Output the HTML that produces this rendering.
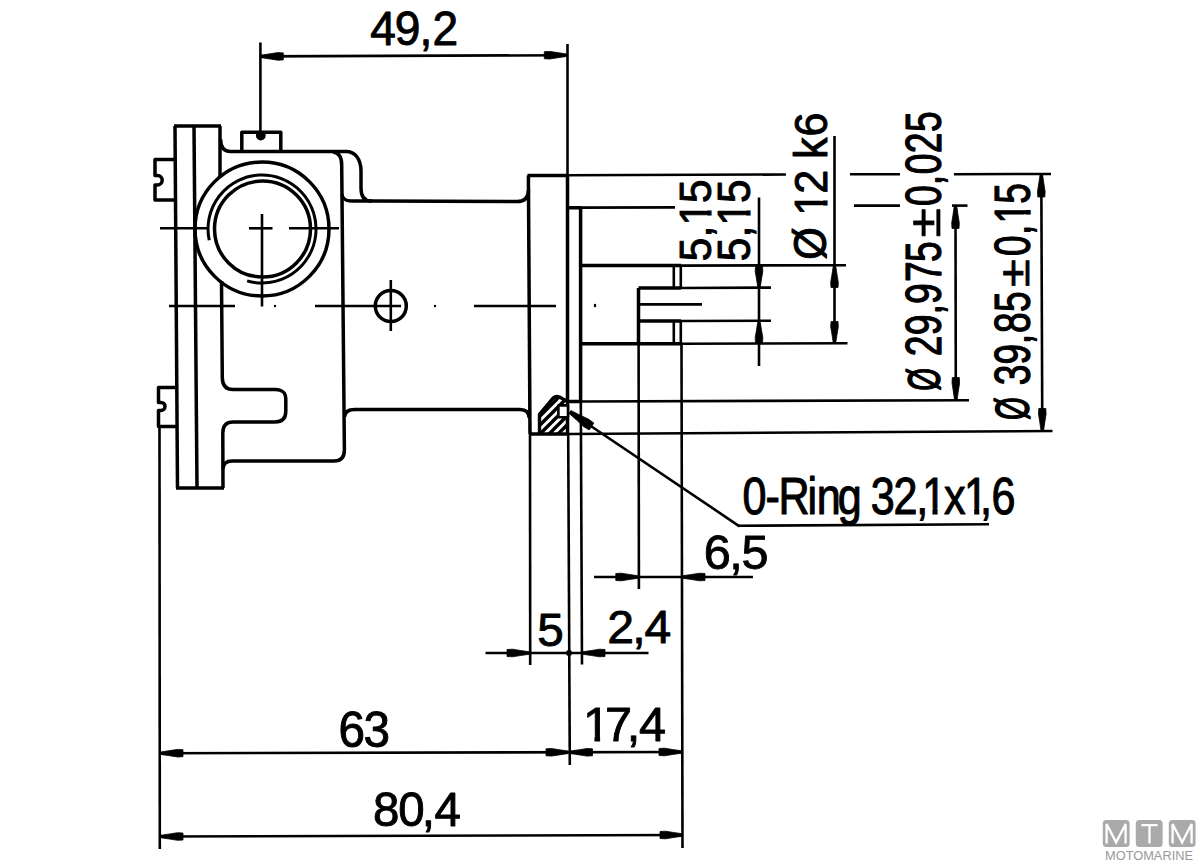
<!DOCTYPE html>
<html><head><meta charset="utf-8"><style>
html,body{margin:0;padding:0;background:#fff;}
svg{display:block;}
text{font-family:"Liberation Sans",sans-serif;fill:#000;stroke:none;}
</style></head><body>
<svg width="1200" height="864" viewBox="0 0 1200 864">
<rect width="1200" height="864" fill="#fff"/>
<g fill="none" stroke="#000" stroke-linecap="butt" stroke-linejoin="round">
<path d="M174,126 H221" stroke-width="3.5" />
<path d="M175,126 L177.5,488" stroke-width="3.5" />
<path d="M194,126 L197,488" stroke-width="3.5" />
<path d="M176,488 H224" stroke-width="3.5" />
<path d="M220,126 V177" stroke-width="3.5" />
<path d="M175,159.5 H155 V175.5 H157.5 A4.7,4.7 0 0 1 157.5,184.9 H155 V200 H175" stroke-width="3.5" />
<path d="M177,387.5 H158.5 V402.4 H161 A4,4 0 0 1 161,410.4 H158.5 V426.4 H177" stroke-width="3.5" />
<path d="M241.8,151 V132.3 H280.8 V151" stroke-width="3.5" />
<circle cx="260.8" cy="135.6" r="4.9" fill="#000" stroke="none"/>
<path d="M220.5,139 Q221,151.5 230,151.5 H346 C355,151.5 361,159 361,171 V188 C361,196 364,201 371,201 L517,201.6 Q528.5,201.6 528.5,190" stroke-width="3.5" />
<path d="M333,152 C338.5,152.5 341.7,157 341.7,165 L344.4,450 Q344.4,461 334,461 H232 Q223.5,461 222.8,469" stroke-width="3.5" />
<path d="M341.9,194 Q342.3,200.9 351,200.9 H372" stroke-width="3.5" />
<path d="M221.5,281 L222.3,378 Q222.6,389.5 233,389.5 H275.5 C282,389.8 285.8,392 285.8,399.5 V411.5 C285.8,419 282,421.9 275,421.9 H233 Q222.8,421.9 222.8,433 L223,488" stroke-width="3.5" />
<path d="M344.6,417 Q345,409.4 355,409.4 H520 Q529,409.4 529.2,418" stroke-width="3.5" />
<circle cx="262" cy="229" r="67" fill="none" stroke-width="3.5"/>
<circle cx="262.5" cy="229" r="48" fill="none" stroke-width="3.5"/>
<path d="M209.2,240.2 A54,54 0 1 1 247.1,280.9" stroke-width="3.0" />
<line x1="160" y1="228.3" x2="209" y2="228.3" stroke-width="2.6"/>
<line x1="249" y1="228.3" x2="272.5" y2="228.3" stroke-width="2.6"/>
<line x1="289" y1="228.3" x2="339" y2="228.3" stroke-width="2.6"/>
<line x1="262" y1="214" x2="262" y2="306.5" stroke-width="2.6"/>
<line x1="169" y1="306" x2="235" y2="306" stroke-width="2.6"/>
<line x1="315" y1="306" x2="401" y2="306" stroke-width="2.6"/>
<line x1="474" y1="306" x2="556" y2="306" stroke-width="2.6"/>
<circle cx="275" cy="306" r="1.2" fill="#000" stroke="none"/>
<circle cx="435" cy="306" r="1.2" fill="#000" stroke="none"/>
<circle cx="595" cy="306" r="1.2" fill="#000" stroke="none"/>
<circle cx="390.8" cy="306" r="15.5" fill="none" stroke-width="3.5"/>
<line x1="390.8" y1="280" x2="390.8" y2="331" stroke-width="2.6"/>
<path d="M528.4,175.6 L530,434" stroke-width="3.5" />
<path d="M527.5,175.6 H567.5" stroke-width="3.5" />
<path d="M567.5,175.6 V434" stroke-width="3.5" />
<path d="M529,434 H569" stroke-width="3.5" />
<path d="M567.5,207.7 H580.6 V401.5 H567.5" stroke-width="3.5" />
<path d="M580.6,265.6 H681" stroke-width="3.5" />
<path d="M580.6,343.7 H681" stroke-width="3.5" />
<path d="M673.8,265.6 V288 M680.8,265.6 V288 M673.8,321 V343.7 M680.8,321 V343.7" stroke-width="2.6" />
<path d="M638.5,288 H681 M638.5,321 H681 M638.5,288 V344" stroke-width="3.5" />
<line x1="637" y1="304.4" x2="702" y2="304.4" stroke-width="2.6"/>
<circle cx="595" cy="305" r="1.2" fill="#000" stroke="none"/>
<clipPath id="oc"><path d="M539.5,434.5 V414.3 L553.1,398.1 Q557.2,394.6 562.4,398.7 L568,401.6 V434.5 Z"/></clipPath>
<path d="M511,445 L576,380 M520,445 L585,380 M529,445 L594,380 M538,445 L603,380 M547,445 L612,380" stroke-width="3.4" clip-path="url(#oc)"/>
<path d="M539.5,434 V414.3 L553.1,398.1 Q557.2,394.6 562.4,398.7 L568,401.6" stroke-width="3.4" />
<rect x="558.4" y="405.4" width="9.6" height="11.8" fill="#fff" stroke="#000" stroke-width="2.6"/>
<line x1="260.4" y1="42.5" x2="260.4" y2="131.5" stroke-width="2.6"/>
<line x1="567.5" y1="44" x2="567.5" y2="176" stroke-width="2.6"/>
<line x1="568.2" y1="434" x2="569.8" y2="765" stroke-width="2.6"/>
<line x1="159.5" y1="426" x2="159.8" y2="849" stroke-width="2.6"/>
<line x1="530" y1="434" x2="530.2" y2="665" stroke-width="2.6"/>
<line x1="580.8" y1="401.5" x2="582" y2="664.5" stroke-width="2.6"/>
<line x1="638.6" y1="344" x2="638.9" y2="589" stroke-width="2.6"/>
<line x1="681.5" y1="343.7" x2="682.5" y2="848" stroke-width="2.6"/>
<line x1="567.5" y1="175.2" x2="786" y2="174.5" stroke-width="2.6"/>
<line x1="850" y1="174.3" x2="900" y2="174.3" stroke-width="2.6"/>
<line x1="954" y1="174.2" x2="1051" y2="174" stroke-width="2.6"/>
<line x1="580.6" y1="207.6" x2="675" y2="207.4" stroke-width="2.6"/>
<line x1="854" y1="205.6" x2="900" y2="205.6" stroke-width="2.6"/>
<line x1="952" y1="205.6" x2="967.5" y2="205.6" stroke-width="2.6"/>
<line x1="681" y1="265.6" x2="846" y2="265.2" stroke-width="2.6"/>
<line x1="681" y1="343.7" x2="847.5" y2="343.2" stroke-width="2.6"/>
<line x1="681" y1="288" x2="771" y2="287.6" stroke-width="2.6"/>
<line x1="681" y1="321" x2="771" y2="320.8" stroke-width="2.6"/>
<line x1="580.6" y1="401.5" x2="969" y2="400.2" stroke-width="2.6"/>
<line x1="569" y1="434" x2="1052.5" y2="431" stroke-width="2.6"/>
<line x1="260.4" y1="56.4" x2="567.5" y2="55.2" stroke-width="2.6"/>
<polygon points="261.30,55.10 270.10,53.82 277.80,52.60 283.30,52.90 283.30,59.90 277.80,60.20 270.10,58.98 261.30,57.70" fill="#000" stroke="#000" stroke-width="0.8" stroke-linejoin="round"/>
<polygon points="566.30,56.50 557.50,57.78 549.80,59.00 544.30,58.70 544.30,51.70 549.80,51.40 557.50,52.62 566.30,53.90" fill="#000" stroke="#000" stroke-width="0.8" stroke-linejoin="round"/>
<line x1="759" y1="197.5" x2="759" y2="366" stroke-width="2.6"/>
<polygon points="757.70,286.50 756.42,278.50 755.20,271.50 755.50,266.50 762.50,266.50 762.80,271.50 761.58,278.50 760.30,286.50" fill="#000" stroke="#000" stroke-width="0.8" stroke-linejoin="round"/>
<polygon points="760.30,322.50 761.58,330.50 762.80,337.50 762.50,342.50 755.50,342.50 755.20,337.50 756.42,330.50 757.70,322.50" fill="#000" stroke="#000" stroke-width="0.8" stroke-linejoin="round"/>
<line x1="834.5" y1="136" x2="834.5" y2="343" stroke-width="2.6"/>
<polygon points="835.80,266.50 837.08,274.90 838.30,282.25 838.00,287.50 831.00,287.50 830.70,282.25 831.92,274.90 833.20,266.50" fill="#000" stroke="#000" stroke-width="0.8" stroke-linejoin="round"/>
<polygon points="833.20,342.50 831.92,334.10 830.70,326.75 831.00,321.50 838.00,321.50 838.30,326.75 837.08,334.10 835.80,342.50" fill="#000" stroke="#000" stroke-width="0.8" stroke-linejoin="round"/>
<line x1="955.5" y1="205.6" x2="955.8" y2="400" stroke-width="2.6"/>
<polygon points="956.80,206.50 958.08,215.30 959.30,223.00 959.00,228.50 952.00,228.50 951.70,223.00 952.92,215.30 954.20,206.50" fill="#000" stroke="#000" stroke-width="0.8" stroke-linejoin="round"/>
<polygon points="954.50,399.50 953.22,390.70 952.00,383.00 952.30,377.50 959.30,377.50 959.60,383.00 958.38,390.70 957.10,399.50" fill="#000" stroke="#000" stroke-width="0.8" stroke-linejoin="round"/>
<line x1="1041.3" y1="174" x2="1042.3" y2="431" stroke-width="2.6"/>
<polygon points="1042.60,175.00 1043.88,183.80 1045.10,191.50 1044.80,197.00 1037.80,197.00 1037.50,191.50 1038.72,183.80 1040.00,175.00" fill="#000" stroke="#000" stroke-width="0.8" stroke-linejoin="round"/>
<polygon points="1041.00,430.50 1039.72,421.70 1038.50,414.00 1038.80,408.50 1045.80,408.50 1046.10,414.00 1044.88,421.70 1043.60,430.50" fill="#000" stroke="#000" stroke-width="0.8" stroke-linejoin="round"/>
<line x1="594" y1="577" x2="753" y2="577" stroke-width="2.6"/>
<polygon points="637.80,578.30 629.00,579.58 621.30,580.80 615.80,580.50 615.80,573.50 621.30,573.20 629.00,574.42 637.80,575.70" fill="#000" stroke="#000" stroke-width="0.8" stroke-linejoin="round"/>
<polygon points="683.00,575.70 691.80,574.42 699.50,573.20 705.00,573.50 705.00,580.50 699.50,580.80 691.80,579.58 683.00,578.30" fill="#000" stroke="#000" stroke-width="0.8" stroke-linejoin="round"/>
<line x1="485.5" y1="653" x2="648.5" y2="653" stroke-width="2.6"/>
<polygon points="529.00,654.30 520.20,655.58 512.50,656.80 507.00,656.50 507.00,649.50 512.50,649.20 520.20,650.42 529.00,651.70" fill="#000" stroke="#000" stroke-width="0.8" stroke-linejoin="round"/>
<polygon points="583.00,651.70 591.80,650.42 599.50,649.20 605.00,649.50 605.00,656.50 599.50,656.80 591.80,655.58 583.00,654.30" fill="#000" stroke="#000" stroke-width="0.8" stroke-linejoin="round"/>
<circle cx="569" cy="653" r="3" fill="#000" stroke="none"/>
<line x1="159.8" y1="753.2" x2="682" y2="752" stroke-width="2.6"/>
<polygon points="161.00,751.90 169.80,750.62 177.50,749.40 183.00,749.70 183.00,756.70 177.50,757.00 169.80,755.78 161.00,754.50" fill="#000" stroke="#000" stroke-width="0.8" stroke-linejoin="round"/>
<polygon points="568.00,753.60 559.20,754.88 551.50,756.10 546.00,755.80 546.00,748.80 551.50,748.50 559.20,749.72 568.00,751.00" fill="#000" stroke="#000" stroke-width="0.8" stroke-linejoin="round"/>
<polygon points="570.50,751.00 579.30,749.72 587.00,748.50 592.50,748.80 592.50,755.80 587.00,756.10 579.30,754.88 570.50,753.60" fill="#000" stroke="#000" stroke-width="0.8" stroke-linejoin="round"/>
<polygon points="681.00,753.30 672.20,754.58 664.50,755.80 659.00,755.50 659.00,748.50 664.50,748.20 672.20,749.42 681.00,750.70" fill="#000" stroke="#000" stroke-width="0.8" stroke-linejoin="round"/>
<line x1="159.8" y1="836.5" x2="683" y2="835" stroke-width="2.6"/>
<polygon points="161.00,835.20 169.80,833.92 177.50,832.70 183.00,833.00 183.00,840.00 177.50,840.30 169.80,839.08 161.00,837.80" fill="#000" stroke="#000" stroke-width="0.8" stroke-linejoin="round"/>
<polygon points="682.00,836.30 673.20,837.58 665.50,838.80 660.00,838.50 660.00,831.50 665.50,831.20 673.20,832.42 682.00,833.70" fill="#000" stroke="#000" stroke-width="0.8" stroke-linejoin="round"/>
<line x1="570" y1="412" x2="739.5" y2="526.3" stroke-width="2.6"/>
<polygon points="570.95,410.59 580.33,415.28 588.68,419.17 593.87,423.10 589.24,429.97 583.65,426.63 576.91,420.35 569.05,413.41" fill="#000" stroke="#000" stroke-width="0.8" stroke-linejoin="round"/>
<line x1="738.5" y1="525.8" x2="989" y2="524.3" stroke-width="2.6"/>
<text x="379.88 405.13 430.27 443.69" y="0" font-size="47.29" transform="translate(0,45.00) scale(0.9747,1)" style="fill:#000;stroke:#000;stroke-width:0.92px">49,2</text>
<text x="352.95 379.02" y="0" font-size="49.71" transform="translate(0,747.00) scale(0.9589,1)" style="fill:#000;stroke:#000;stroke-width:0.94px">63</text>
<text x="381.55 407.27 431.42 444.29" y="0" font-size="48.57" transform="translate(0,825.60) scale(0.9778,1)" style="fill:#000;stroke:#000;stroke-width:0.92px">80,4</text>
<text x="531.28" y="0" font-size="47.14" transform="translate(0,646.00) scale(1.0111,1)" style="fill:#000;stroke:#000;stroke-width:0.89px">5</text>
<text x="594.96 619.40 631.31" y="0" font-size="47.14" transform="translate(0,643.40) scale(1.0208,1)" style="fill:#000;stroke:#000;stroke-width:0.88px">2,4</text>
<text x="600.76 622.45 634.56" y="0" font-size="48.29" transform="translate(0,740.60) scale(1.0070,1)" style="fill:#000;stroke:#000;stroke-width:0.89px">7,4</text>
<clipPath id="f1c1"><path d="M-3000,-3000 H3000 V3000 H-3000 Z M579.88,-5.55 H590.39 V2.41 H579.88 Z M595.92,-5.55 H604.74 V2.41 H595.92 Z" clip-rule="evenodd"/></clipPath>
<text x="578.91" y="0" font-size="48.29" clip-path="url(#f1c1)" transform="translate(0,740.60) scale(1.0070,1)" style="fill:#000;stroke:#000;stroke-width:0.89px">1</text>
<text x="696.54 721.66 733.91" y="0" font-size="48.14" transform="translate(0,568.60) scale(1.0104,1)" style="fill:#000;stroke:#000;stroke-width:0.89px">6,5</text>
<text x="903.11 930.91 946.78 982.11 993.13 1018.93 1058.99 1086.51 1114.36 1147.86 1191.70 1205.87" y="0" font-size="52.43" transform="translate(0,514.30) scale(0.8223,1)" style="fill:#000;stroke:#000;stroke-width:1.09px">0-Ring32,x,6</text>
<clipPath id="f1c2"><path d="M-3000,-3000 H3000 V3000 H-3000 Z M1122.68,-6.03 H1134.03 V2.62 H1122.68 Z M1140.16,-6.03 H1149.68 V2.62 H1140.16 Z M1173.39,-6.03 H1184.75 V2.62 H1173.39 Z M1190.88,-6.03 H1200.39 V2.62 H1190.88 Z" clip-rule="evenodd"/></clipPath>
<text x="1121.63 1172.34" y="0" font-size="52.43" clip-path="url(#f1c2)" transform="translate(0,514.30) scale(0.8223,1)" style="fill:#000;stroke:#000;stroke-width:1.09px">11</text>
<text x="-270.16 -245.60 -209.78" y="0" font-size="43.86" transform="translate(711.10,0) rotate(-90) scale(0.9672,1)" style="fill:#000;stroke:#000;stroke-width:0.93px">5,5</text>
<clipPath id="f1c3"><path d="M-3000,-3000 H3000 V3000 H-3000 Z M-232.27,-5.04 H-222.78 V2.19 H-232.27 Z M-217.64,-5.04 H-209.69 V2.19 H-217.64 Z" clip-rule="evenodd"/></clipPath>
<text x="-233.15" y="0" font-size="43.86" clip-path="url(#f1c3)" transform="translate(711.10,0) rotate(-90) scale(0.9672,1)" style="fill:#000;stroke:#000;stroke-width:0.93px">1</text>
<text x="-280.72 -255.20 -217.98" y="0" font-size="45.57" transform="translate(749.90,0) rotate(-90) scale(0.9308,1)" style="fill:#000;stroke:#000;stroke-width:0.97px">5,5</text>
<clipPath id="f1c4"><path d="M-3000,-3000 H3000 V3000 H-3000 Z M-241.35,-5.24 H-231.49 V2.28 H-241.35 Z M-226.15,-5.24 H-217.88 V2.28 H-226.15 Z" clip-rule="evenodd"/></clipPath>
<text x="-242.26" y="0" font-size="45.57" clip-path="url(#f1c4)" transform="translate(749.90,0) rotate(-90) scale(0.9308,1)" style="fill:#000;stroke:#000;stroke-width:0.97px">1</text>
<text x="0" y="0" font-size="45.84" transform="translate(825.91,259.75) rotate(-90) scale(0.9101,1)" style="fill:#000;stroke:#000;stroke-width:0.99px">Ø</text>
<text x="-205.55 -168.60 -144.91" y="0" font-size="45.71" transform="translate(826.50,0) rotate(-90) scale(0.9425,1)" style="fill:#000;stroke:#000;stroke-width:0.95px">2k6</text>
<clipPath id="f1c5"><path d="M-3000,-3000 H3000 V3000 H-3000 Z M-227.99,-5.26 H-218.10 V2.29 H-227.99 Z M-212.75,-5.26 H-204.45 V2.29 H-212.75 Z" clip-rule="evenodd"/></clipPath>
<text x="-228.91" y="0" font-size="45.71" clip-path="url(#f1c5)" transform="translate(826.50,0) rotate(-90) scale(0.9425,1)" style="fill:#000;stroke:#000;stroke-width:0.95px">1</text>
<text x="0" y="0" font-size="46.78" transform="translate(940.09,390.72) rotate(-90) scale(0.6267,1)" style="fill:#000;stroke:#000;stroke-width:1.44px">Ø</text>
<text x="-474.02 -446.07 -418.24 -404.37 -375.14 -348.54 -273.96 -246.45 -231.86 -203.80 -175.62" y="0" font-size="49.57" transform="translate(941.00,0) rotate(-90) scale(0.7518,1)" style="fill:#000;stroke:#000;stroke-width:1.20px">29,9750,025</text>
<text x="0" y="0" font-size="43.68" transform="translate(940.00,237.50) rotate(-90) scale(1.2251,1)" style="fill:#000;stroke:#000;stroke-width:0.73px">±</text>
<text x="0" y="0" font-size="47.59" transform="translate(1029.47,420.12) rotate(-90) scale(0.6160,1)" style="fill:#000;stroke:#000;stroke-width:1.46px">Ø</text>
<text x="-520.30 -492.14 -464.88 -449.56 -421.42 -345.52 -317.43 -275.12" y="0" font-size="50.00" transform="translate(1030.00,0) rotate(-90) scale(0.7406,1)" style="fill:#000;stroke:#000;stroke-width:1.22px">39,850,5</text>
<clipPath id="f1c6"><path d="M-3000,-3000 H3000 V3000 H-3000 Z M-300.42,-5.75 H-289.68 V2.50 H-300.42 Z M-283.66,-5.75 H-274.67 V2.50 H-283.66 Z" clip-rule="evenodd"/></clipPath>
<text x="-301.42" y="0" font-size="50.00" clip-path="url(#f1c6)" transform="translate(1030.00,0) rotate(-90) scale(0.7406,1)" style="fill:#000;stroke:#000;stroke-width:1.22px">1</text>
<text x="0" y="0" font-size="42.84" transform="translate(1028.80,287.23) rotate(-90) scale(1.2011,1)" style="fill:#000;stroke:#000;stroke-width:0.75px">±</text>
</g>
<g font-family="Liberation Sans, sans-serif" fill="#000" stroke="none">
<rect x="1102.8" y="820" width="26.8" height="27" rx="3.5" fill="#aaa" stroke="none"/>
<rect x="1135.8" y="820" width="26.8" height="27" rx="3.5" fill="#aaa" stroke="none"/>
<rect x="1168.8" y="820" width="26.8" height="27" rx="3.5" fill="#aaa" stroke="none"/>
<path d="M1106.6,843.6 V824 L1116.1,842.4 L1125.6,824 V843.6 M1141.4,825.2 H1157.6 M1149.5,825.2 V843.6 M1172.6,843.6 V824 L1182.1,842.4 L1191.6,824 V843.6" fill="none" stroke="#fff" stroke-width="2.3" stroke-linejoin="miter"/>
<text x="1105" y="859.8" font-size="13.2" style="fill:#9a9a9a" textLength="88" lengthAdjust="spacingAndGlyphs">MOTOMARINE</text>
</g>
</svg>
</body></html>
